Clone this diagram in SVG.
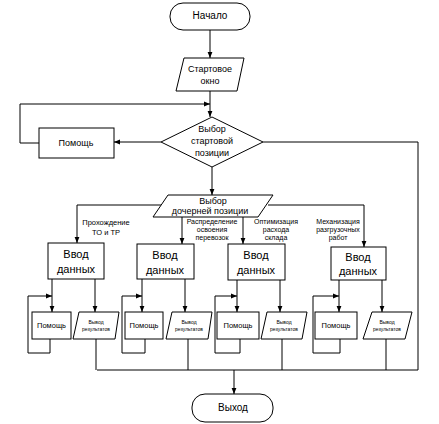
<svg xmlns="http://www.w3.org/2000/svg" width="439" height="424" viewBox="0 0 439 424">
<style>
.s{fill:#fff;stroke:#000;stroke-width:1}
.c{fill:none;stroke:#000;stroke-width:1}
text{font-family:"Liberation Sans",Arial,sans-serif;fill:#000;text-anchor:middle}
.t10{font-size:10px}
.t9{font-size:9px}
.t11{font-size:11px}
.t8{font-size:7.5px}
.t7{font-size:7px}
.t5{font-size:5px}
</style>
<defs>
<marker id="a" viewBox="0 0 10 10" refX="10" refY="5" markerWidth="6" markerHeight="6" orient="auto" markerUnits="userSpaceOnUse">
<path d="M0,1 L10,5 L0,9 Z" fill="#000"/>
</marker>
</defs>
<g id="connectors">
<path class="c" d="M210,30 V58" marker-end="url(#a)"/>
<path class="c" d="M210,91 V117" marker-end="url(#a)"/>
<path class="c" d="M39,143 H20 V104 H210" marker-end="url(#a)"/>
<path class="c" d="M161,142 H114" marker-end="url(#a)"/>
<path class="c" d="M263,142 H418 V370 H97"/>
<path class="c" d="M212,167 V195" marker-end="url(#a)"/>
<path class="c" d="M164,205 H77 V243" marker-end="url(#a)"/>
<path class="c" d="M182,217 V244" marker-end="url(#a)"/>
<path class="c" d="M243,217 V244" marker-end="url(#a)"/>
<path class="c" d="M268,205 H364 V247" marker-end="url(#a)"/>
<path class="c" d="M52,279 V312" marker-end="url(#a)"/>
<path class="c" d="M95,279 V312" marker-end="url(#a)"/>
<path class="c" d="M50,339 V353 H28 V296 H52" marker-end="url(#a)"/>
<path class="c" d="M96,339 V370"/>
<path class="c" d="M142,279 V312" marker-end="url(#a)"/>
<path class="c" d="M185,279 V312" marker-end="url(#a)"/>
<path class="c" d="M145,339 V353 H122 V296 H142" marker-end="url(#a)"/>
<path class="c" d="M188,339 V370"/>
<path class="c" d="M237,280 V312" marker-end="url(#a)"/>
<path class="c" d="M280,280 V312" marker-end="url(#a)"/>
<path class="c" d="M240,339 V353 H215 V296 H237" marker-end="url(#a)"/>
<path class="c" d="M282,339 V370"/>
<path class="c" d="M339,280 V312" marker-end="url(#a)"/>
<path class="c" d="M382,280 V312" marker-end="url(#a)"/>
<path class="c" d="M340,339 V353 H313 V296 H339" marker-end="url(#a)"/>
<path class="c" d="M386,339 V370"/>
<path class="c" d="M234,370 V394" marker-end="url(#a)"/>
</g>
<g id="start">
<rect class="s" x="170" y="3" width="80" height="27" rx="13"/>
<text class="t10" x="210" y="19">Начало</text>
</g>
<g id="startwin">
<polygon class="s" points="184,58 244,58 237,91 176,91"/>
<text class="t9" x="210" y="72">Стартовое</text>
<text class="t9" x="210" y="84">окно</text>
</g>
<g id="choice">
<polygon class="s" points="212,117 263,142 212,167 161,142"/>
<text class="t9" x="212" y="132">Выбор</text>
<text class="t9" x="212" y="144">стартовой</text>
<text class="t9" x="212" y="156">позиции</text>
</g>
<g id="help0">
<rect class="s" x="39" y="128" width="75" height="30"/>
<text class="t9" x="76" y="146">Помощь</text>
</g>
<g id="child">
<polygon class="s" points="168,195 273,195 258,217 153,217"/>
<text class="t9" x="213" y="204">Выбор</text>
<text class="t9" x="210" y="214">дочерней позиции</text>
</g>
<g id="labels">
<text class="t8" x="106" y="225">Прохождение</text>
<text class="t8" x="106" y="235">ТО и ТР</text>
<text class="t7" x="212" y="224">Распределение</text>
<text class="t7" x="212" y="232">освоения</text>
<text class="t7" x="212" y="240">перевозок</text>
<text class="t7" x="276" y="224">Оптимизация</text>
<text class="t7" x="276" y="232">расхода</text>
<text class="t7" x="276" y="240">склада</text>
<text class="t7" x="338" y="224">Механизация</text>
<text class="t7" x="338" y="232">разгрузочных</text>
<text class="t7" x="338" y="240">работ</text>
</g>
<g id="in1">
<rect class="s" x="48" y="243" width="56" height="36"/>
<text class="t11" x="76" y="258">Ввод</text>
<text class="t11" x="76" y="273">данных</text>
</g>
<g id="in2">
<rect class="s" x="137" y="244" width="57" height="35"/>
<text class="t11" x="165" y="259">Ввод</text>
<text class="t11" x="165" y="274">данных</text>
</g>
<g id="in3">
<rect class="s" x="228" y="244" width="57" height="36"/>
<text class="t11" x="256" y="259">Ввод</text>
<text class="t11" x="256" y="274">данных</text>
</g>
<g id="in4">
<rect class="s" x="331" y="247" width="55" height="33"/>
<text class="t11" x="358" y="261">Ввод</text>
<text class="t11" x="358" y="275">данных</text>
</g>
<g id="help1">
<rect class="s" x="32" y="312" width="39" height="27"/>
<text class="t8" x="51.5" y="328">Помощь</text>
</g>
<g id="out1">
<polygon class="s" points="79,312 119,312 115,339 73,339"/>
<text class="t5" x="96" y="324">Вывод</text>
<text class="t5" x="96" y="331">результатов</text>
</g>
<g id="help2">
<rect class="s" x="125" y="312" width="38" height="27"/>
<text class="t8" x="144" y="328">Помощь</text>
</g>
<g id="out2">
<polygon class="s" points="172,312 212,312 208,339 166,339"/>
<text class="t5" x="189" y="324">Вывод</text>
<text class="t5" x="189" y="331">результатов</text>
</g>
<g id="help3">
<rect class="s" x="217" y="312" width="42" height="27"/>
<text class="t8" x="238" y="328">Помощь</text>
</g>
<g id="out3">
<polygon class="s" points="267,312 307,312 302,339 261,339"/>
<text class="t5" x="284" y="324">Вывод</text>
<text class="t5" x="284" y="331">результатов</text>
</g>
<g id="help4">
<rect class="s" x="315" y="312" width="42" height="27"/>
<text class="t8" x="336" y="328">Помощь</text>
</g>
<g id="out4">
<polygon class="s" points="372,312 412,312 405,339 363,339"/>
<text class="t5" x="387" y="324">Вывод</text>
<text class="t5" x="387" y="331">результатов</text>
</g>
<g id="exit">
<rect class="s" x="192" y="394" width="81" height="28" rx="13"/>
<text class="t10" x="233" y="411">Выход</text>
</g>
</svg>
